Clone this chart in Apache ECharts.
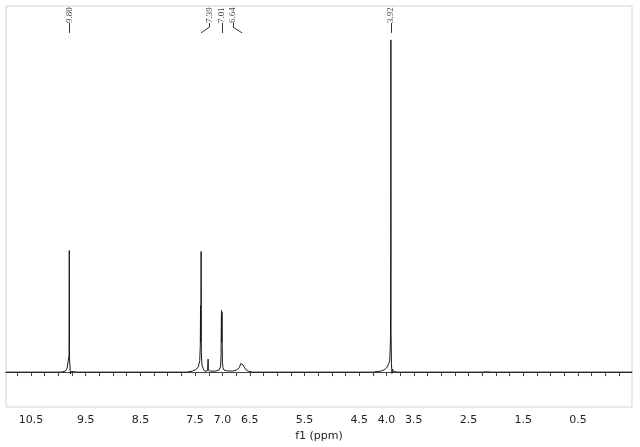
<!DOCTYPE html>
<html>
<head>
<meta charset="utf-8">
<script src="https://cdn.jsdelivr.net/npm/echarts@6/dist/echarts.min.js"></script>
<style>html,body{margin:0;padding:0;background:#fff}#c{width:640px;height:447px}</style>
</head>
<body>
<div id="c"></div>
<script>
// Spectrum (ppm, relative intensity; tallest peak = 100)
const ppm = [10.957, 9.95, 9.87, 9.84, 9.82, 9.805, 9.80, 9.795, 9.78, 9.76, 9.74, 9.65,
  7.65, 7.55, 7.48, 7.44, 7.415, 7.405, 7.40, 7.397, 7.393, 7.39, 7.386, 7.375, 7.35, 7.32, 7.29, 7.27, 7.262, 7.258, 7.25, 7.22,
  7.12, 7.06, 7.035, 7.025, 7.02, 7.016, 7.012, 7.008, 7.004, 7.00, 6.99, 6.97, 6.93,
  6.82, 6.74, 6.69, 6.665, 6.645, 6.625, 6.60, 6.57, 6.53, 6.45,
  4.25, 4.10, 4.03, 3.99, 3.96, 3.94, 3.928, 3.922, 3.92, 3.917, 3.91, 3.90, 3.89, 3.875, 3.86, 3.80,
  2.25, 2.19, 2.17, 2.15, 2.10, -0.488];
const intensity = [0, 0, 0.3, 1.2, 0.8, 5, 36.6, 4, -0.6, 0.2, 0.3, 0,
  0, 0.3, 0.8, 1.6, 3.5, 8, 20, 9, 12, 36.3, 6, 2.2, 0.9, 0.2, 0.3, 0.5, 3.9, 0.6, 0.2, 0.3,
  0.3, 0.7, 1.6, 5, 16, 18.6, 9, 18, 8, 3, 1.3, 0.6, 0.4,
  0.3, 0.6, 1.4, 2.6, 3.0, 2.2, 1.5, 0.7, 0.3, 0,
  0, 0.3, 0.8, 1.5, 2.5, 3.6, 10, 40, 100, 12, 2.5, -0.4, 0.9, 0.2, 0.4, 0,
  0, 0.1, 0.4, 0.1, 0, 0];

// Peak annotations
const peakLabels = ['9.80', '7.39', '7.01', '6.64', '3.92'];
const peakPos = [9.80, 7.39, 7.01, 6.64, 3.92];      // peak being labelled
const labelPos = [9.80, 7.235, 7.01, 6.81, 3.92];    // where the label text sits

// Axis ticks and labels
const tickValues = [10.75, 10.5, 10.25, 10.0, 9.75, 9.5, 9.25, 9.0, 8.75, 8.5, 8.25, 8.0, 7.75, 7.5, 7.25, 7.0,
  6.75, 6.5, 6.25, 6.0, 5.75, 5.5, 5.25, 5.0, 4.75, 4.5, 4.25, 4.0, 3.75, 3.5, 3.25, 3.0, 2.75, 2.5, 2.25, 2.0,
  1.75, 1.5, 1.25, 1.0, 0.75, 0.5, 0.25, 0.0, -0.25];
const labelValues = [10.5, 9.5, 8.5, 7.5, 7.0, 6.5, 5.5, 4.5, 4.0, 3.5, 2.5, 1.5, 0.5];

const Y_TEXT = 105.1, Y_BEND = 103.9, Y_END = 102.1;

const connectors = [];
peakLabels.forEach((t, i) => {
  if (Math.abs(labelPos[i] - peakPos[i]) < 1e-6) {
    connectors.push([{coord: [labelPos[i], Y_TEXT]}, {coord: [peakPos[i], Y_END]}]);
  } else {
    connectors.push([{coord: [labelPos[i], Y_TEXT]}, {coord: [labelPos[i], Y_BEND]}]);
    connectors.push([{coord: [labelPos[i], Y_BEND]}, {coord: [peakPos[i], Y_END]}]);
  }
});

const chart = echarts.init(document.getElementById('c'), null, {renderer: 'canvas'});
chart.setOption({
  animation: false,
  backgroundColor: '#fff',
  grid: {left: 6, right: 8, top: 6, bottom: 39, show: true, borderColor: '#d2d2d2', borderWidth: 1},
  xAxis: {
    type: 'value', inverse: true, min: -0.488, max: 10.957, offset: 2,
    axisLine: {show: true, lineStyle: {color: '#444', width: 1}},
    axisTick: {show: true, customValues: tickValues, length: 4, lineStyle: {color: '#444'}},
    axisLabel: {customValues: labelValues, formatter: v => v.toFixed(1), color: '#222',
      fontFamily: 'DejaVu Sans', fontSize: 11, margin: 6},
    splitLine: {show: false},
    name: 'f1 (ppm)', nameLocation: 'middle', nameGap: 22,
    nameTextStyle: {color: '#222', fontFamily: 'DejaVu Sans', fontSize: 11}
  },
  yAxis: {type: 'value', min: -10.5, max: 110.2, show: false, splitLine: {show: false}},
  series: [
    {
      type: 'line', data: ppm.map((p, i) => [p, intensity[i]]), symbol: 'none',
      lineStyle: {color: '#1a1a1a', width: 1}, silent: true,
      markLine: {silent: true, symbol: 'none', label: {show: false},
        lineStyle: {color: '#333', width: 1, type: 'solid'}, data: connectors}
    },
    {
      type: 'scatter', symbolSize: 0, silent: true,
      data: peakLabels.map((t, i) => [labelPos[i], Y_TEXT, t]),
      label: {show: true, position: 'inside', formatter: p => p.data[2], rotate: 90,
        align: 'left', verticalAlign: 'middle', color: '#111',
        fontFamily: 'Liberation Serif', fontSize: 9}
    }
  ]
});
</script>
</body>
</html>
